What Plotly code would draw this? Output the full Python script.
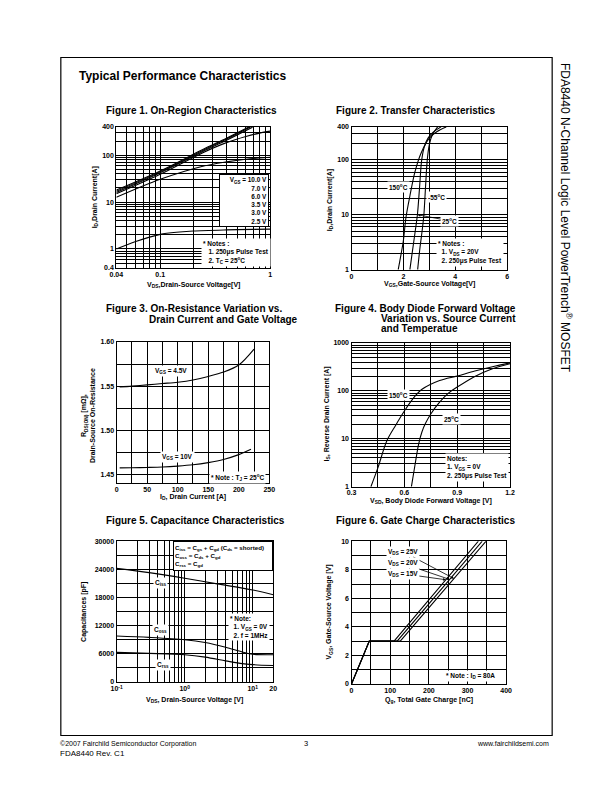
import plotly.graph_objects as go

W, H = 612, 792
FONT = "Liberation Sans, Arial, Helvetica, sans-serif"

# ---------------- Figure 1: On-Region Characteristics (log-log) ----------------
f1_v_10v = [0.04, 0.1, 0.244, 0.4, 0.64]
f1_i_10v = [18, 46, 132, 230, 400]
f1_v_7v = [0.04, 0.1, 0.244, 0.4, 0.66]
f1_i_7v = [17, 44, 126, 220, 400]
f1_v_6v = [0.04, 0.1, 0.244, 0.4, 0.69]
f1_i_6v = [16, 42, 120, 208, 395]
f1_v_35v = [0.04, 0.1, 0.244, 0.4, 0.6, 0.8, 1.0]
f1_i_35v = [15, 39, 113, 185, 250, 295, 325]
f1_v_3v = [0.04, 0.1, 0.244, 0.4, 0.6, 0.8, 1.0]
f1_i_3v = [12.6, 30.5, 58, 72, 82, 87, 90]
f1_v_25v = [0.04, 0.06, 0.1, 0.15, 0.2, 0.4, 0.7, 1.0]
f1_i_25v = [1.0, 1.45, 2.05, 2.3, 2.42, 2.55, 2.62, 2.65]
f1_xticks = [0.04, 0.1, 1]
f1_xtext = ["0.04", "0.1", "1"]
f1_yticks = [0.4, 1, 10, 100, 400]
f1_ytext = ["0.4", "1", "10", "100", "400"]

# ---------------- Figure 2: Transfer Characteristics ----------------
f2_v_150 = [1.80, 1.9, 2.0, 2.1, 2.25, 2.45, 2.7, 3.0, 3.3, 3.65]
f2_i_150 = [1, 1.8, 3.4, 9, 22, 62, 140, 250, 330, 400]
f2_v_25 = [2.25, 2.35, 2.45, 2.54, 2.62, 2.70, 2.80, 2.95, 3.15, 3.45]
f2_i_25 = [1, 2.2, 4.8, 10, 30, 95, 170, 250, 320, 400]
f2_v_m55 = [2.55, 2.63, 2.72, 2.79, 2.85, 2.92, 3.0, 3.12, 3.32]
f2_i_m55 = [1, 2.3, 5, 10, 30, 100, 190, 290, 400]
f2_xticks = [0, 2, 4, 6]
f2_yticks = [1, 10, 100, 400]
f2_ytext = ["1", "10", "100", "400"]

# ---------------- Figure 3: On-Resistance vs Drain Current ----------------
f3_id_45 = [5, 25, 50, 75, 100, 125, 150, 175, 200, 225]
f3_r_45 = [1.549, 1.550, 1.5515, 1.553, 1.5545, 1.557, 1.561, 1.566, 1.574, 1.592]
f3_id_10 = [5, 25, 50, 75, 100, 125, 150, 175, 200, 220]
f3_r_10 = [1.4575, 1.4577, 1.458, 1.4585, 1.4595, 1.461, 1.4635, 1.467, 1.4725, 1.4785]
f3_xticks = [0, 50, 100, 150, 200, 250]
f3_yticks = [1.45, 1.50, 1.55, 1.60]
f3_ytext = ["1.45", "1.50", "1.55", "1.60"]

# ---------------- Figure 4: Body Diode Forward Voltage ----------------
f4_v_150 = [0.41, 0.45, 0.5, 0.55, 0.6, 0.65, 0.7, 0.8, 0.9, 1.0, 1.1, 1.2]
f4_i_150 = [1, 2.5, 9, 19, 38, 70, 108, 165, 205, 260, 320, 385]
f4_v_25 = [0.64, 0.66, 0.68, 0.7, 0.72, 0.75, 0.8, 0.85, 0.9, 1.0, 1.1, 1.2]
f4_i_25 = [1, 2.8, 7.5, 14, 21, 33, 58, 90, 120, 200, 290, 370]
f4_xticks = [0.3, 0.6, 0.9, 1.2]
f4_xtext = ["0.3", "0.6", "0.9", "1.2"]
f4_yticks = [1, 10, 100, 1000]

# ---------------- Figure 5: Capacitance Characteristics ----------------
f5_v_ciss = [0.1, 0.3, 1, 3, 10, 20]
f5_c_ciss = [24200, 23300, 22100, 20900, 19600, 18600]
f5_v_coss = [0.1, 0.3, 1, 2, 4, 7, 10, 20]
f5_c_coss = [9800, 9500, 9000, 8400, 7400, 6400, 5900, 5800]
f5_v_crss = [0.1, 0.3, 1, 2, 4, 7, 10, 20]
f5_c_crss = [6300, 6100, 5800, 5300, 4500, 3900, 3700, 3500]
f5_xticks = [0.1, 1, 10, 20]
f5_xtext = ["10<sup>-1</sup>", "10<sup>0</sup>", "10<sup>1</sup>", "20"]
f5_yticks = [0, 6000, 12000, 18000, 24000, 30000]

# ---------------- Figure 6: Gate Charge Characteristics ----------------
f6_q_15 = [0, 46, 110, 328]
f6_v_15 = [0, 3, 3, 10]
f6_q_20 = [0, 46, 118, 338]
f6_v_20 = [0, 3, 3, 10]
f6_q_25 = [0, 46, 126, 348]
f6_v_25 = [0, 3, 3, 10]
f6_xticks = [0, 100, 200, 300, 400]
f6_yticks = [0, 2, 4, 6, 8, 10]


def X(px):
    return px / W


def Y(py):
    return 1 - py / H


def decade_minors(lo_exp, hi_exp, extra=()):
    vals = []
    for e in range(lo_exp, hi_exp + 1):
        for m in range(2, 10):
            vals.append(m * 10 ** e)
    return vals + list(extra)


fig = go.Figure()


def curve(xs, ys, xa, ya, width=1.1, smooth=True):
    fig.add_trace(go.Scatter(
        x=xs, y=ys, mode="lines", xaxis=xa, yaxis=ya,
        line=dict(color="black", width=width,
                  shape="spline" if smooth else "linear", smoothing=0.9),
        showlegend=False, hoverinfo="skip"))


# Figure 1
for xs, ys in [(f1_v_10v, f1_i_10v), (f1_v_7v, f1_i_7v), (f1_v_6v, f1_i_6v),
               (f1_v_35v, f1_i_35v), (f1_v_3v, f1_i_3v), (f1_v_25v, f1_i_25v)]:
    curve(xs, ys, "x", "y")
# Figure 2
for xs, ys in [(f2_v_150, f2_i_150), (f2_v_25, f2_i_25), (f2_v_m55, f2_i_m55)]:
    curve(xs, ys, "x2", "y2")
# Figure 3
curve(f3_id_45, f3_r_45, "x3", "y3")
curve(f3_id_10, f3_r_10, "x3", "y3")
# Figure 4
curve(f4_v_150, f4_i_150, "x4", "y4")
curve(f4_v_25, f4_i_25, "x4", "y4")
# Figure 5
curve(f5_v_ciss, f5_c_ciss, "x5", "y5")
curve(f5_v_coss, f5_c_coss, "x5", "y5")
curve(f5_v_crss, f5_c_crss, "x5", "y5")
# Figure 6
for xs, ys in [(f6_q_15, f6_v_15), (f6_q_20, f6_v_20), (f6_q_25, f6_v_25)]:
    curve(xs, ys, "x6", "y6", smooth=False)

TICKFONT = dict(family=FONT, size=7, color="black", weight="bold")


def axis(px0, px1, anchor, typ, rng, tickvals, ticktext, minor_vals, horizontal=True, standoff=0):
    if horizontal:
        dom = [X(px0), X(px1)]
    else:
        dom = [Y(px1), Y(px0)]
    return dict(
        domain=dom, anchor=anchor, type=typ, range=rng,
        tickmode="array", tickvals=tickvals, ticktext=ticktext,
        showgrid=True, gridcolor="black", gridwidth=1.1,
        minor=dict(tickmode="array", tickvals=minor_vals, showgrid=True,
                   gridcolor="black", gridwidth=0.5, ticks=""),
        showline=True, linecolor="black", linewidth=1.2, mirror=True,
        ticks="", zeroline=False, tickfont=TICKFONT, fixedrange=True,
        ticklabelstandoff=standoff)


layout = dict(
    width=W, height=H, autosize=False,
    margin=dict(l=0, r=0, t=0, b=0),
    paper_bgcolor="white", plot_bgcolor="white",
    showlegend=False,
)

# Fig 1 axes
layout["xaxis"] = axis(111.7, 269, "y", "log", [-1.39794, 0], f1_xticks, f1_xtext,
                       decade_minors(-2, -1)[3:])
layout["yaxis"] = axis(124, 266, "x", "log", [-0.39794, 2.60206], f1_yticks, f1_ytext,
                       [0.5, 0.6, 0.7, 0.8, 0.9] + decade_minors(0, 1) + [200, 300], horizontal=False)
# Fig 2 axes
layout["xaxis2"] = axis(352, 511, "y2", "linear", [0, 6], f2_xticks, [str(v) for v in f2_xticks],
                        [1, 3, 5])
layout["yaxis2"] = axis(124, 268, "x2", "log", [0, 2.60206], f2_yticks, f2_ytext,
                        decade_minors(0, 1) + [200, 300], horizontal=False)
# Fig 3 axes
layout["xaxis3"] = axis(112, 268, "y3", "linear", [0, 250], f3_xticks, [str(v) for v in f3_xticks],
                        [25, 75, 125, 175, 225])
layout["yaxis3"] = axis(341, 483, "x3", "linear", [1.4407, 1.60], f3_yticks, f3_ytext,
                        [1.475, 1.525, 1.575], horizontal=False)
# Fig 4 axes
layout["xaxis4"] = axis(352, 514, "y4", "linear", [0.3, 1.2], f4_xticks, f4_xtext,
                        [0.45, 0.75, 1.05], standoff=-1)
layout["yaxis4"] = axis(342, 487, "x4", "log", [0, 3], f4_yticks, [str(v) for v in f4_yticks],
                        decade_minors(0, 2), horizontal=False)
# Fig 5 axes
layout["xaxis5"] = axis(112, 272, "y5", "log", [-1, 1.30103], f5_xticks, f5_xtext,
                        decade_minors(-1, 0))
layout["yaxis5"] = axis(542, 684, "x5", "linear", [0, 30000], f5_yticks, [str(v) for v in f5_yticks],
                        [3000, 9000, 15000, 21000, 27000], horizontal=False)
# Fig 6 axes
layout["xaxis6"] = axis(352, 510, "y6", "linear", [0, 400], f6_xticks, [str(v) for v in f6_xticks],
                        [50, 150, 250, 350])
layout["yaxis6"] = axis(542, 686, "x6", "linear", [0, 10], f6_yticks, [str(v) for v in f6_yticks],
                        [1, 3, 5, 7, 9], horizontal=False)

ann = []


def txt(text, px, py, size=7, bold=True, xanchor="center", yanchor="middle",
        angle=0, bg=None, border=0, align="left", width=None, height=None):
    a = dict(text=text, x=X(px), y=Y(py), xref="paper", yref="paper",
             xanchor=xanchor, yanchor=yanchor, showarrow=False, textangle=angle,
             align=align, borderpad=1,
             font=dict(family=FONT, size=size, color="black",
                       weight="bold" if bold else "normal"))
    if bg:
        a["bgcolor"] = bg
    if border:
        a["bordercolor"] = "black"
        a["borderwidth"] = border
    if width:
        a["width"] = width
    if height:
        a["height"] = height
    ann.append(a)


NB = "\u00a0"

# Page title and side title
txt("Typical Performance Characteristics", 72, 73, size=12, xanchor="left")
txt("FDA8440 N-Channel Logic Level PowerTrench<sup>®</sup> MOSFET", 571, 215.7,
    size=12, bold=False, angle=90)

# Figure titles
txt("Figure 1. On-Region Characteristics", 99.3, 107, size=10, xanchor="left")
txt("Figure 2. Transfer Characteristics", 334, 107, size=10, xanchor="left")
txt("Figure 3. On-Resistance Variation vs.", 99.3, 307.5, size=10, xanchor="left")
txt("Drain Current and Gate Voltage", 143.3, 318.5, size=10, xanchor="left")
txt("Figure 4. Body Diode Forward Voltage", 333.3, 307.5, size=10, xanchor="left")
txt("Variation vs. Source Current", 380, 317.5, size=10, xanchor="left")
txt("and Temperatue", 380, 327.5, size=10, xanchor="left")
txt("Figure 5. Capacitance Characteristics", 99.3, 521.5, size=10, xanchor="left")
txt("Figure 6. Gate Charge Characteristics", 334, 521.5, size=10, xanchor="left")

# Axis titles
txt("V<sub>DS</sub>,Drain-Source Voltage[V]", 190.3, 284)
txt("I<sub>D</sub>,Drain Current[A]", 90, 195, angle=-90)
txt("V<sub>GS</sub>,Gate-Source Voltage[V]", 431.5, 283)
txt("I<sub>D</sub>,Drain Current[A]", 330, 198, angle=-90)
txt("I<sub>D</sub>, Drain Current [A]", 190, 497.3)
txt("R<sub>DS(ON)</sub> [mΩ],<br>Drain-Source On-Resistance", 83.5, 415, angle=-90, align="center")
txt("V<sub>SD</sub>, Body Diode Forward Voltage [V]", 433, 501)
txt("I<sub>S</sub>, Reverse Drain Current [A]", 327, 414, angle=-90)
txt("V<sub>DS</sub>, Drain-Source Voltage [V]", 192, 702.3)
txt("Capacitances [pF]", 78, 613, angle=-90)
txt("Q<sub>g</sub>, Total Gate Charge [nC]", 431, 702)
txt("V<sub>GS</sub>, Gate-Source Voltage [V]", 329, 614, angle=-90)

# Figure 1 legend box & notes
txt("V<sub>GS</sub> = 10.0 V<br>7.0 V<br>6.0 V<br>3.5 V<br>3.0 V<br>2.5 V",
    241.7, 198.5, size=6.4, bg="white", border=1, align="right", width=46, height=49)
txt("* Notes :<br>" + NB * 3 + "1. 250μs Pulse Test<br>" + NB * 3 + "2. T<sub>C</sub> = 25<sup>o</sup>C",
    198, 251, size=6.5, xanchor="left", bg="white")

# Figure 2 labels & notes
txt("150<sup>o</sup>C", 400.5, 184.3, size=6.5, bg="white")
txt("-55<sup>o</sup>C", 438.8, 195, size=6.5, bg="white")
txt("* Notes :<br>" + NB * 2 + "1. V<sub>DS</sub> = 20V<br>" + NB * 2 + "2. 250μs Pulse Test",
    438, 251, size=6.5, xanchor="left", bg="white")
ann.append(dict(text="25<sup>o</sup>C", x=2.55, y=1.0, xref="x2", yref="y2",
                ax=32, ay=6, showarrow=True, arrowhead=2, arrowsize=0.7, arrowwidth=0.8,
                arrowcolor="black", bgcolor="white",
                font=dict(family=FONT, size=6.5, color="black", weight="bold")))

# Figure 3 labels
txt("V<sub>GS</sub> = 4.5V", 167.5, 370.7, size=6.5, bg="white")
txt("V<sub>GS</sub> = 10V", 174, 456.7, size=6.5, bg="white")
txt("* Note : T<sub>J</sub> = 25<sup>o</sup>C", 235, 477.7, size=6.5, bg="white")

# Figure 4 labels
txt("150<sup>o</sup>C", 399.7, 394.3, size=6.5, bg="white")
txt("25<sup>o</sup>C", 453.7, 418.3, size=6.5, bg="white")
txt("Notes:<br>1. V<sub>GS</sub> = 0V<br>2. 250μs Pulse Test", 448, 468, size=6.5,
    xanchor="left", bg="white")

# Figure 5 labels
txt("C<sub>iss</sub>", 157, 584, size=6.5, bg="white")
txt("C<sub>oss</sub>", 156.7, 631.7, size=6.5, bg="white")
txt("C<sub>rss</sub>", 159.5, 666.7, size=6.5, bg="white")
txt("C<sub>iss</sub> = C<sub>gs</sub> + C<sub>gd</sub> (C<sub>ds</sub> = shorted)<br>"
    "C<sub>oss</sub> = C<sub>ds</sub> + C<sub>gd</sub><br>C<sub>rss</sub> = C<sub>gd</sub>",
    221, 557.2, size=6.2, bg="white", border=1, align="left", width=96, height=26)
txt("* Note:<br>" + NB * 2 + "1. V<sub>GS</sub> = 0V<br>" + NB * 2 + "2. f = 1MHz",
    226, 628.5, size=6.5, xanchor="left", bg="white")

# Figure 6 labels
txt("* Note : I<sub>D</sub> = 80A", 474, 678.3, size=6.5, bg="white")
for label, q, v, ax, ay in [("V<sub>DS</sub> = 25V", 265, 7.38, -51, -27),
                            ("V<sub>DS</sub> = 20V", 254, 7.32, -47, -16),
                            ("V<sub>DS</sub> = 15V", 244, 7.30, -43, -6)]:
    ann.append(dict(text=label, x=q, y=v, xref="x6", yref="y6", ax=ax, ay=ay,
                    showarrow=True, arrowhead=2, arrowsize=0.7, arrowwidth=0.8,
                    arrowcolor="black", bgcolor="white",
                    font=dict(family=FONT, size=6.5, color="black", weight="bold")))

# Footer
txt("©2007 Fairchild Semiconductor Corporation", 51.7, 746.5, size=7, bold=False, xanchor="left")
txt("3", 305, 746.5, size=7.5, bold=False)
txt("www.fairchildsemi.com", 556, 746.5, size=7, bold=False, xanchor="right")
txt("FDA8440 Rev. C1", 51.7, 756, size=8, bold=False, xanchor="left")

layout["annotations"] = ann
layout["shapes"] = [dict(type="rect", xref="paper", yref="paper",
                         x0=X(55), x1=X(557), y0=Y(738), y1=Y(54),
                         line=dict(color="black", width=1.2))]

fig.update_layout(**layout)
fig.write_html("out.html")
